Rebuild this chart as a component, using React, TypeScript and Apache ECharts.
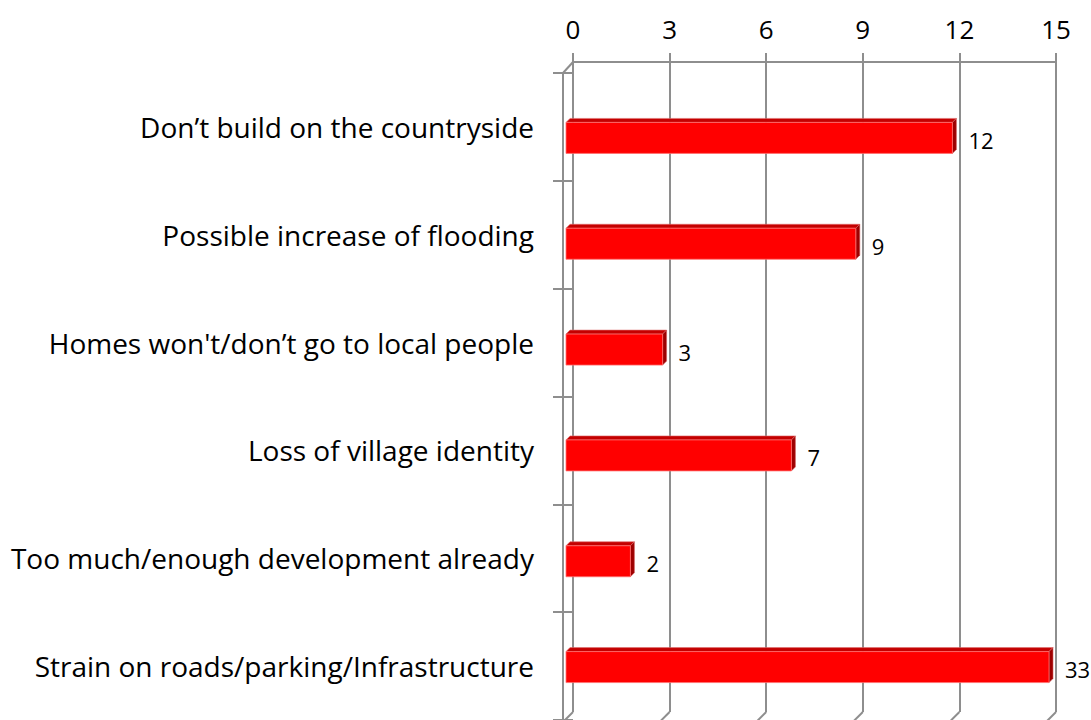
import React, { useEffect, useRef } from "react";
import * as echarts from "echarts";

const categories = [
  "Don’t build on the countryside",
  "Possible increase of flooding",
  "Homes won't/don’t go to local people",
  "Loss of village identity",
  "Too much/enough development already",
  "Strain on roads/parking/Infrastructure",
];
const values = [12, 9, 3, 7, 2, 33];
const axisMin = 0;
const axisMax = 15;
const axisInterval = 3;
const tickValues = [0, 3, 6, 9, 12, 15];

const FONT = "'Open Sans', 'DejaVu Sans', sans-serif";
const GRID_GRAY = "#8e8e8e";

export default function App() {
  const ref = useRef<HTMLDivElement>(null);

  useEffect(() => {
    if (!ref.current) return;
    const chart = echarts.init(ref.current, undefined, { renderer: "svg" });

    const depth = 4;
    const barH = 31;

    const option: any = {
      animation: false,
      backgroundColor: "#ffffff",
      textStyle: { fontFamily: FONT },
      grid: [
        { left: 573, top: 62, width: 483, height: 650 },
        { left: 563, top: 73, width: 483, height: 652 },
        { left: 566, top: 85, width: 483, height: 652 },
      ],
      xAxis: [
        {
          gridIndex: 0,
          type: "value",
          position: "top",
          min: axisMin,
          max: axisMax,
          interval: axisInterval,
          axisLine: { show: true, lineStyle: { color: GRID_GRAY, width: 2 } },
          axisTick: { show: true, length: 9, lineStyle: { color: GRID_GRAY, width: 2 } },
          splitLine: { show: true, lineStyle: { color: GRID_GRAY, width: 2 } },
          axisLabel: { fontSize: 26, color: "#000", margin: 20, fontFamily: FONT },
        },
        { gridIndex: 1, type: "value", min: axisMin, max: axisMax, show: false },
        { gridIndex: 2, type: "value", min: axisMin, max: axisMax, show: false },
      ],
      yAxis: [
        { gridIndex: 0, type: "category", data: categories, show: false },
        {
          gridIndex: 1,
          type: "category",
          data: categories,
          inverse: true,
          position: "left",
          axisLine: { show: true, lineStyle: { color: GRID_GRAY, width: 2 } },
          axisTick: { show: true, length: 10, lineStyle: { color: GRID_GRAY, width: 2 } },
          splitLine: { show: false },
          axisLabel: { fontSize: 28, color: "#000", margin: 29, fontFamily: FONT },
        },
        {
          gridIndex: 1,
          type: "category",
          data: categories,
          inverse: true,
          position: "left",
          axisLine: { show: false },
          axisTick: { show: true, inside: true, length: 10, lineStyle: { color: GRID_GRAY, width: 2 } },
          axisLabel: { show: false },
          splitLine: { show: false },
        },
        { gridIndex: 2, type: "category", data: categories, inverse: true, show: false },
      ],
      series: [
        {
          type: "custom",
          xAxisIndex: 2,
          yAxisIndex: 3,
          data: values.map((v, i) => [v, i]),
          renderItem: (params: any, api: any) => {
            const raw = api.value(0);
            const idx = api.value(1);
            const capped = Math.min(raw, axisMax);
            const p0 = api.coord([0, idx]);
            const p1 = api.coord([capped, idx]);
            const x0 = p0[0];
            const x1 = p1[0];
            const yc = p0[1];
            const yTop = yc - barH / 2;
            return {
              type: "group",
              children: [
                {
                  type: "polygon",
                  shape: {
                    points: [
                      [x0, yTop],
                      [x0 + depth, yTop - depth],
                      [x1 + depth, yTop - depth],
                      [x1, yTop],
                    ],
                  },
                  style: { fill: "#c40000", stroke: "#e07070", lineWidth: 0.6 },
                },
                {
                  type: "polygon",
                  shape: {
                    points: [
                      [x1, yTop],
                      [x1 + depth, yTop - depth],
                      [x1 + depth, yTop + barH - depth],
                      [x1, yTop + barH],
                    ],
                  },
                  style: { fill: "#9e0000", stroke: "#d06060", lineWidth: 0.6 },
                },
                {
                  type: "rect",
                  shape: { x: x0, y: yTop, width: x1 - x0, height: barH },
                  style: { fill: "#ff0000", stroke: "#ff7070", lineWidth: 0.8 },
                },
                {
                  type: "text",
                  x: x1 + depth + 12,
                  y: yc + 2,
                  style: {
                    text: String(raw),
                    fill: "#000",
                    fontSize: 22,
                    fontFamily: FONT,
                    align: "left",
                    verticalAlign: "middle",
                    textAlign: "left",
                    textVerticalAlign: "middle",
                  },
                },
              ],
            };
          },
        },
      ],
    };

    chart.setOption(option);

    const xs = tickValues.map((t) => chart.convertToPixel({ xAxisIndex: 0 }, t) as number);
    const floorY = 712;
    const graphics: any[] = xs.map((x) => ({
      type: "line",
      shape: { x1: x, y1: floorY, x2: x - 9, y2: floorY + 9 },
      style: { stroke: GRID_GRAY, lineWidth: 2 },
      silent: true,
    }));
    graphics.push({
      type: "line",
      shape: { x1: xs[0] - 10, y1: 73, x2: xs[0], y2: 62 },
      style: { stroke: GRID_GRAY, lineWidth: 2 },
      silent: true,
    });
    chart.setOption({ graphic: graphics });

    return () => chart.dispose();
  }, []);

  return (
    <div
      ref={ref}
      style={{ position: "absolute", left: 0, top: 0, width: 1091, height: 720 }}
    />
  );
}
